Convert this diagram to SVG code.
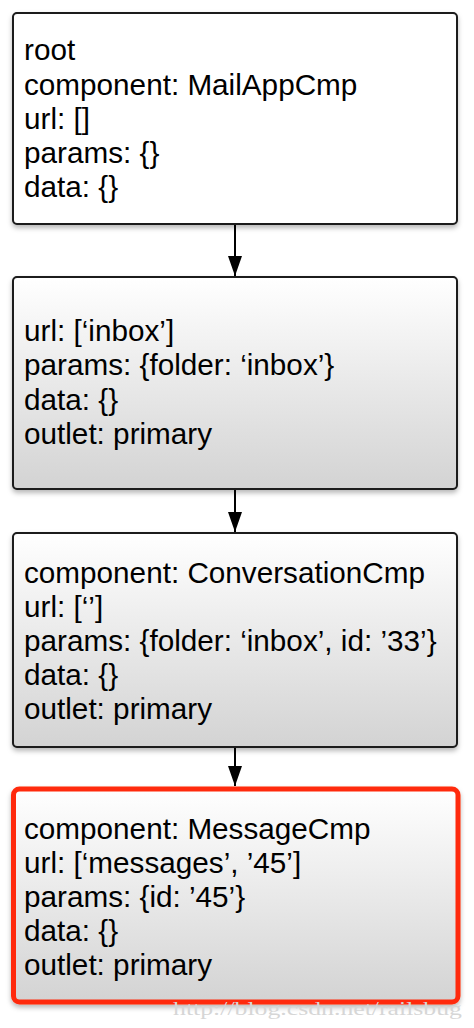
<svg xmlns="http://www.w3.org/2000/svg" width="474" height="1028" viewBox="0 0 474 1028">
<defs>
<linearGradient id="g" x1="0" y1="0" x2="0" y2="1">
<stop offset="0" stop-color="#ffffff"/>
<stop offset="1" stop-color="#d3d3d3"/>
</linearGradient>
<filter id="sh" x="-5%" y="-5%" width="110%" height="115%">
<feDropShadow dx="0" dy="3" stdDeviation="2.5" flood-color="#000" flood-opacity="0.28"/>
</filter>
<marker id="ah" markerWidth="20" markerHeight="14" refX="20" refY="7" orient="auto" markerUnits="userSpaceOnUse" viewBox="0 0 20 14">
<path d="M0,0 L20,7 L0,14 Z" fill="#000"/>
</marker>
</defs>
<style>
.box{stroke:#1a1a1a;stroke-width:2}
.t{font-family:"Liberation Sans",Arial,Helvetica,sans-serif;font-size:29.7px;fill:#000}
.wm{font-family:"Liberation Serif","Times New Roman",serif;font-size:19px;fill:#d6d6d6}
</style>
<g id="connectors" stroke="#000" stroke-width="2">
<line x1="235" y1="225" x2="235" y2="276" marker-end="url(#ah)"/>
<line x1="235" y1="490" x2="235" y2="532" marker-end="url(#ah)"/>
<line x1="235" y1="748" x2="235" y2="786" marker-end="url(#ah)"/>
</g>
<g id="node-root">
<rect class="box" x="13" y="13" width="444" height="211" rx="4" fill="#fff" filter="url(#sh)"/>
<text class="t" x="24" y="60">root</text>
<text class="t" x="24" y="95">component: MailAppCmp</text>
<text class="t" x="24" y="129">url: []</text>
<text class="t" x="24" y="163">params: {}</text>
<text class="t" x="24" y="197">data: {}</text>
</g>
<g id="node-inbox">
<rect class="box" x="13" y="277" width="444" height="212" rx="4" fill="url(#g)" filter="url(#sh)"/>
<text class="t" x="24" y="341">url: [‘inbox’]</text>
<text class="t" x="24" y="375">params: {folder: ‘inbox’}</text>
<text class="t" x="24" y="410">data: {}</text>
<text class="t" x="24" y="444">outlet: primary</text>
</g>
<g id="node-conversation">
<rect class="box" x="13" y="533" width="444" height="214" rx="4" fill="url(#g)" filter="url(#sh)"/>
<text class="t" x="24" y="583">component: ConversationCmp</text>
<text class="t" x="24" y="617">url: [‘’]</text>
<text class="t" x="24" y="651">params: {folder: ‘inbox’, id: ’33’}</text>
<text class="t" x="24" y="685">data: {}</text>
<text class="t" x="24" y="719">outlet: primary</text>
</g>
<g id="node-message">
<rect x="13.5" y="789" width="444.5" height="213" rx="6" fill="url(#g)" stroke="#ff2a0a" stroke-width="5" filter="url(#sh)"/>
<text class="t" x="24" y="839">component: MessageCmp</text>
<text class="t" x="24" y="873">url: [‘messages’, ’45’]</text>
<text class="t" x="24" y="907">params: {id: ’45’}</text>
<text class="t" x="24" y="941">data: {}</text>
<text class="t" x="24" y="975">outlet: primary</text>
</g>
<text class="wm" x="173" y="1015" textLength="289" lengthAdjust="spacingAndGlyphs">http://blog.csdn.net/railsbug</text>
</svg>
